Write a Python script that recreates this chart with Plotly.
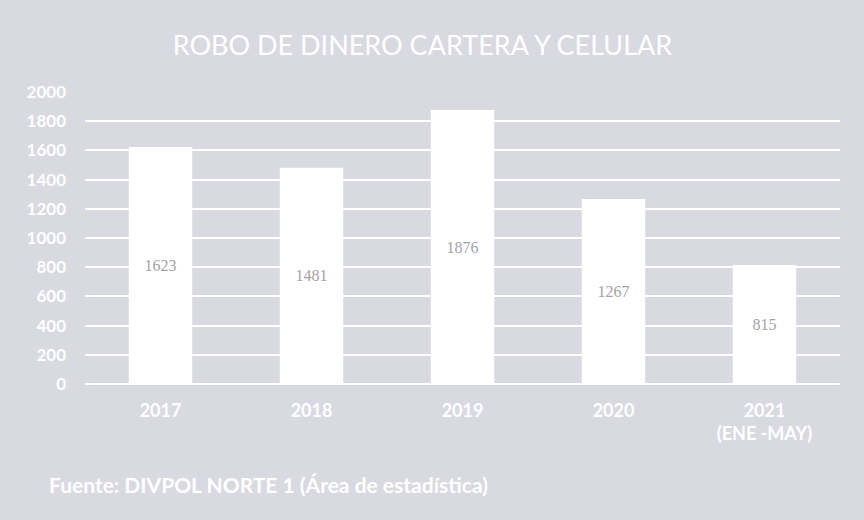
import plotly.graph_objects as go

categories = ["2017", "2018", "2019", "2020", "2021<br>(ENE -MAY)"]
values = [1623, 1481, 1876, 1267, 815]
y_ticks = [0, 200, 400, 600, 800, 1000, 1200, 1400, 1600, 1800, 2000]

bg = "#d9d9e1"
font_sans = "Lato, Roboto, Open Sans, sans-serif"

fig = go.Figure(go.Bar(
    x=categories,
    y=values,
    marker=dict(color="white", line=dict(width=0)),
    text=[str(v) for v in values],
    textposition="inside",
    insidetextanchor="middle",
    textfont=dict(color="#a2a2aa", size=16, family="Liberation Serif, DejaVu Serif, serif"),
    textangle=0,
    hoverinfo="skip",
))

fig.update_layout(
    width=864, height=520,
    paper_bgcolor=bg, plot_bgcolor=bg,
    margin=dict(l=85, r=24, t=92, b=136),
    bargap=0.58,
    showlegend=False,
    title=dict(text="ROBO DE DINERO CARTERA Y CELULAR", x=0.489, xanchor="center",
               y=0.912, yanchor="middle",
               font=dict(color="white", size=27, family=font_sans)),
    xaxis=dict(showgrid=False, showline=False, zeroline=False, ticks="",
               tickfont=dict(color="white", size=18, family=font_sans, weight="bold"),
               ticklabelstandoff=14),
    yaxis=dict(range=[0, 2000], tickvals=y_ticks, showgrid=True, gridcolor="white", gridwidth=2,
               zeroline=True, zerolinecolor="white", zerolinewidth=2,
               tickfont=dict(color="white", size=17, family=font_sans, weight="bold"),
               ticks="", ticklabelstandoff=18),
    annotations=[dict(text="<b>Fuente: DIVPOL NORTE 1 (Área de estadística)</b>",
                      xref="paper", yref="paper", x=-0.05, y=-0.345, xanchor="left",
                      yanchor="middle", showarrow=False,
                      font=dict(color="white", size=21, family=font_sans))],
)

fig.write_html("out.html", config={"displayModeBar": False},
               post_script="document.body.style.margin='0';document.body.style.background='%s';" % bg)
